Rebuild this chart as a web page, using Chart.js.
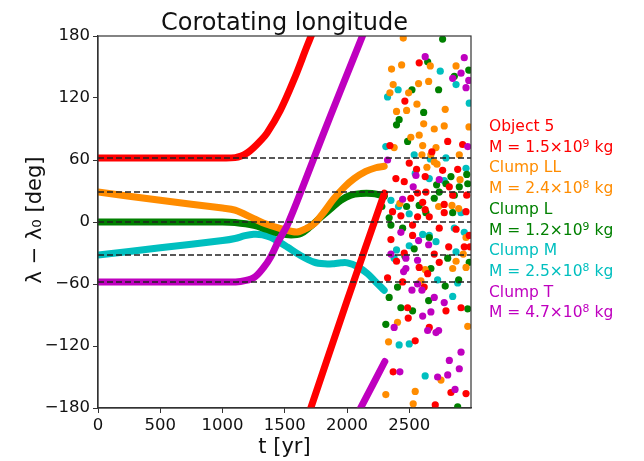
<!DOCTYPE html>
<html>
<head>
<meta charset="utf-8">
<script src="https://cdn.jsdelivr.net/npm/chart.js@4.4.0/dist/chart.umd.min.js"></script>
<style>
  body { margin: 0; background: #fff; }
  #wrap { position: relative; width: 644px; height: 461px; }
  #key {
    position: absolute; left: 489px; top: 116px;
    font: 15.5px "DejaVu Sans", sans-serif; line-height: 20.7px;
    white-space: nowrap;
  }
  #key sup { font-size: 0.7em; line-height: 0; vertical-align: 0.5em; }
</style>
</head>
<body>
<div id="wrap">
  <canvas id="lonChart" width="644" height="461"></canvas>
  <div id="key"></div>
</div>
<script>
const titleText = "Corotating longitude";
const xLabel = "t [yr]";
const yLabel = "λ − λ₀ [deg]";
const tickX = [0, 500, 1000, 1500, 2000, 2500];
const tickY = [-180, -120, -60, 0, 60, 120, 180];

// dashed reference lines = starting longitudes
const refLines = [62, 29, 0, -32, -58];

const names = ["Object 5", "Clump LL", "Clump L", "Clump M", "Clump T"];
const massMant = ["1.5", "2.4", "1.2", "2.5", "4.7"];
const massExp = ["9", "8", "9", "8", "8"];
const colors = ["#ff0000", "#ff8c00", "#008000", "#00bfbf", "#bf00bf"];

// smooth tracks [t, deg]
const obj5Arc = [[0, 62], [500, 62], [1000, 62], [1100, 62.3], [1150, 63.8], [1200, 67], [1250, 72], [1300, 78], [1357, 86], [1464, 108], [1571, 137], [1678, 170], [1718, 182]];
const obj5Wrap = [[1703, -182], [2000, -76], [2300, 28]];
const llTrack = [[0, 29], [500, 21], [1000, 13.5], [1100, 11.5], [1252, 3.3], [1350, -2], [1467, -6.4], [1550, -9], [1601, -9.7], [1660, -7], [1735, -1.6], [1810, 9], [1895, 22.7], [1980, 34], [2056, 42], [2150, 49], [2230, 52.5], [2298, 54]];
const lTrack = [[0, 0], [1000, 0], [1100, -0.5], [1252, -3.2], [1350, -7], [1467, -11.2], [1550, -12.5], [1628, -11.2], [1700, -5], [1789, 4.8], [1870, 13], [1949, 21], [2030, 26], [2110, 27.5], [2200, 27.5], [2271, 26], [2300, 25]];
const mTrack = [[0, -32], [500, -25], [1000, -18], [1100, -16], [1180, -13.2], [1250, -11.8], [1320, -12.3], [1386, -14.8], [1450, -19], [1520, -24.2], [1620, -32], [1735, -38.8], [1820, -40.5], [1895, -40.3], [1950, -39.5], [2003, -39.5], [2080, -43], [2164, -50], [2230, -58], [2298, -66]];
const tArc = [[0, -58], [1000, -58], [1145, -57.5], [1250, -54], [1330, -44], [1386, -34], [1450, -18], [1520, -3], [1654, 37], [1789, 79], [1950, 128], [2130, 182]];
const tWrap = [[2100, -182], [2303, -135]];

// scattered samples after break-up [t, deg]
const obj5Dots = [[2579, 154], [2464, 117], [2344, 74], [2808, 78], [2928, 75], [2681, 68], [2499, 57], [2558, 51], [2767, 50], [2888, 51], [2392, 42], [2627, 44], [2459, 39], [2821, 34], [2633, 29], [2566, 28], [2848, 26], [2961, 26], [2512, 23], [2607, 19], [2780, 17], [2627, 12], [2780, 9], [2365, 10], [2432, 6], [2566, 5], [2660, 5], [2955, 10], [2352, -17], [2526, -13], [2740, -6], [2875, -7], [2981, -13], [2526, -3], [2816, -24], [2941, -24], [2459, -30], [2700, -31], [2740, -39], [2397, -38], [2579, -44], [2325, -54], [2446, -58], [2619, -63], [2486, -83], [2794, -86], [2915, -83], [2491, -93], [2660, -102], [2547, -115], [2370, -145], [2834, -165], [2955, -166], [2708, -177], [2987, -24], [2647, -50]];
const llDots = [[2451, 178], [2668, 151], [2438, 152], [2357, 148], [2875, 151], [2655, 136], [2574, 134], [2370, 133], [2344, 125], [2494, 125], [2561, 114], [2788, 109], [2397, 107], [2478, 108], [2615, 95], [2700, 90], [2780, 93], [2979, 92], [2512, 82], [2579, 84], [2378, 72], [2607, 74], [2714, 72], [2601, 65], [2673, 65], [2700, 58], [2901, 65], [2641, 53], [2722, 56], [2907, 41], [2424, 18], [2735, 15], [2842, 16], [2896, 13], [2955, -15], [2933, -31], [2875, -38], [2627, -46], [2848, -45], [2955, -44], [2593, -57], [2405, -97], [2969, -101], [2333, -116], [2754, -153], [2311, -167], [2547, -164], [2531, -176]];
const lDots = [[2767, 177], [2647, 155], [2861, 141], [2977, 147], [2521, 128], [2735, 128], [2615, 106], [2418, 99], [2397, 94], [2486, 78], [2961, 46], [2834, 44], [2794, 37], [2901, 34], [2719, 36], [2969, 37], [2740, 29], [2861, 26], [2700, 23], [2478, 15], [2579, 16], [2279, 15], [2633, 9], [2848, 9], [2338, 4], [2352, -3], [2446, -6], [2660, -15], [2539, -26], [2808, -35], [2981, -39], [2673, -45], [2405, -63], [2788, -62], [2896, -56], [2338, -73], [2655, -76], [2432, -83], [2526, -86], [2969, -84], [2311, -99], [2888, -179], [2464, -33]];
const mDots = [[2748, 146], [2875, 133], [2410, 128], [2325, 121], [2311, 73], [2539, 65], [2668, 61], [2794, 62], [2955, 52], [2547, 47], [2660, 42], [2780, 40], [2352, 21], [2413, 15], [2499, 8], [2915, 9], [2607, -12], [2660, -13], [2714, -19], [2861, -6], [2941, -10], [2499, -23], [2397, -27], [2875, -29], [2378, -35], [2727, -56], [2888, -59], [2848, -72], [2418, -119], [2499, -118], [2627, -149], [2981, 115]];
const tDots = [[2627, 160], [2941, 159], [2915, 144], [2848, 139], [2977, 137], [2955, 130], [2969, 73], [2325, 60], [2553, 45], [2740, 41], [2531, 34], [2446, 22], [2432, -10], [2574, -18], [2655, -22], [2352, -31], [2472, -35], [2566, -37], [2472, -45], [2454, -48], [2566, -60], [2521, -66], [2601, -66], [2700, -73], [2780, -78], [2673, -87], [2378, -102], [2647, -105], [2714, -107], [2735, -105], [2607, -91], [2915, -126], [2821, -134], [2901, -142], [2424, -145], [2727, -150], [2808, -148], [2867, -162]];

const X_MAX = 2995;
const FONT = '"DejaVu Sans", sans-serif';

const toXY = (arr) => arr.map(([t, v]) => ({ x: t, y: v }));

function track(pts, color, order) {
  return {
    data: toXY(pts),
    showLine: true,
    borderColor: color,
    borderWidth: 7,
    borderCapStyle: "round",
    borderJoinStyle: "round",
    tension: 0.35,
    pointRadius: 0,
    clip: 0,
    order: order,
  };
}

function dots(pts, color, order) {
  return {
    data: toXY(pts),
    showLine: false,
    pointRadius: 3.6,
    pointBorderWidth: 0,
    pointBackgroundColor: color,
    borderColor: color,
    clip: 0,
    order: order,
  };
}

const datasets = [];
refLines.forEach((v) => {
  datasets.push({
    data: [{ x: 0, y: v }, { x: X_MAX, y: v }],
    showLine: true,
    borderColor: "#222",
    borderWidth: 1.5,
    borderDash: [6, 3],
    pointRadius: 0,
    order: 0,
  });
});
datasets.push(track(tArc, colors[4], 1), track(tWrap, colors[4], 1), dots(tDots, colors[4], 1));
datasets.push(track(obj5Arc, colors[0], 2), track(obj5Wrap, colors[0], 2), dots(obj5Dots, colors[0], 2));
datasets.push(track(llTrack, colors[1], 3), dots(llDots, colors[1], 3));
datasets.push(track(lTrack, colors[2], 4), dots(lDots, colors[2], 4));
datasets.push(track(mTrack, colors[3], 5), dots(mDots, colors[3], 5));

const minus = (v) => (v < 0 ? "\u2212" + Math.abs(v) : String(v));

const decor = {
  id: "decor",
  afterDraw(chart) {
    const { ctx, chartArea: a } = chart;
    ctx.save();
    ctx.strokeStyle = "#333";
    ctx.lineWidth = 1.2;
    ctx.strokeRect(a.left, a.top, a.right - a.left, a.bottom - a.top);
    ctx.fillStyle = "#111";
    ctx.textAlign = "center";
    ctx.textBaseline = "alphabetic";
    ctx.font = "24px " + FONT;
    ctx.fillText(titleText, (a.left + a.right) / 2, 30);
    ctx.font = "21px " + FONT;
    ctx.fillText(xLabel, (a.left + a.right) / 2, 453);
    ctx.translate(41, 220);
    ctx.rotate(-Math.PI / 2);
    ctx.fillText(yLabel, 0, 0);
    ctx.restore();
  },
};

new Chart(document.getElementById("lonChart"), {
  type: "scatter",
  data: { datasets },
  options: {
    responsive: false,
    devicePixelRatio: 1,
    animation: false,
    layout: { padding: { top: 36, right: 173, left: 0, bottom: 0 } },
    plugins: { legend: { display: false }, tooltip: { enabled: false } },
    scales: {
      x: {
        type: "linear",
        min: 0,
        max: X_MAX,
        afterFit: (s) => { s.height = 53; },
        afterBuildTicks: (s) => { s.ticks = tickX.map((v) => ({ value: v })); },
        ticks: { font: { family: FONT, size: 16.5 }, color: "#111", padding: 3, maxRotation: 0, callback: (v) => minus(v) },
        grid: { drawOnChartArea: false, tickLength: 5, color: "#333" },
        border: { color: "#333", width: 1.2 },
      },
      y: {
        type: "linear",
        min: -180,
        max: 180,
        afterFit: (s) => { s.width = 98; },
        afterBuildTicks: (s) => { s.ticks = tickY.map((v) => ({ value: v })); },
        ticks: { font: { family: FONT, size: 16.5 }, color: "#111", padding: 3, callback: (v) => minus(v) },
        grid: { drawOnChartArea: false, tickLength: 5, color: "#333" },
        border: { color: "#333", width: 1.2 },
      },
    },
  },
  plugins: [decor],
});

document.getElementById("key").innerHTML = names
  .map((n, i) =>
    `<div style="color:${colors[i]}">${n}</div>` +
    `<div style="color:${colors[i]}">M = ${massMant[i]}×10<sup>${massExp[i]}</sup> kg</div>`)
  .join("");
</script>
</body>
</html>
